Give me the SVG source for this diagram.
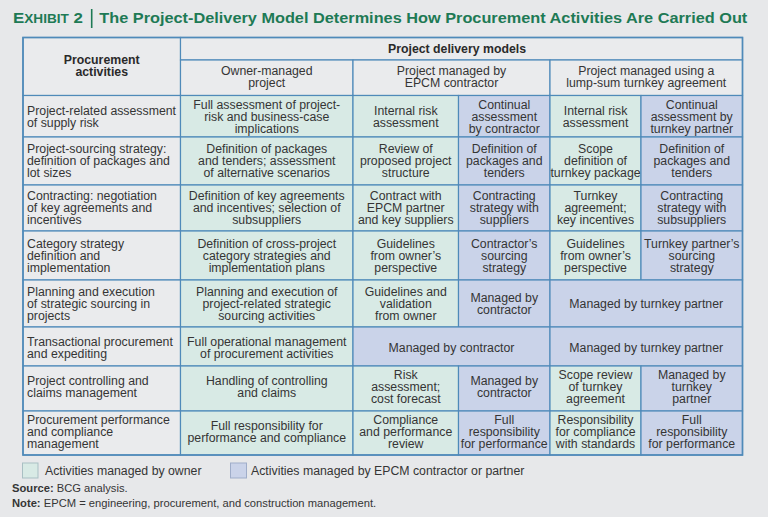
<svg xmlns="http://www.w3.org/2000/svg" width="768" height="517" viewBox="0 0 768 517">
<style>
.bg{fill:#e7e8ea}
.h{fill:#eaebed;stroke:#4f8ab9;stroke-width:1.2}
.g{fill:#d8eae5;stroke:#4f8ab9;stroke-width:1.2}
.b{fill:#cad3e9;stroke:#4f8ab9;stroke-width:1.2}
text{font-family:"Liberation Sans",Arial,sans-serif;fill:#353535}
.t{font-size:12.3px}
.c{text-anchor:middle}
.bd{font-weight:bold;fill:#2a2a2a}
.ttl{font-weight:bold;fill:#1e7a55}
.ft{font-size:11.2px}
</style>
<rect class="bg" x="0" y="0" width="768" height="517"/>

<g id="title">
<text class="ttl" x="13" y="23" textLength="70" lengthAdjust="spacingAndGlyphs"><tspan font-size="15.5">E</tspan><tspan font-size="12.5">XHIBIT</tspan><tspan font-size="15.5"> 2</tspan></text>
<line x1="91.7" y1="9" x2="91.7" y2="28" stroke="#1e7a55" stroke-width="1.6"/>
<text class="ttl" x="99.3" y="23" font-size="15.5" textLength="648" lengthAdjust="spacingAndGlyphs">The Project-Delivery Model Determines How Procurement Activities Are Carried Out</text>
</g>

<g id="header">
<rect class="h" x="23" y="37.5" width="157.5" height="58"/>
<text class="t c bd" x="101.7" y="63.5">Procurement</text>
<text class="t c bd" x="101.7" y="75.5">activities</text>
<rect class="h" x="180.5" y="37.5" width="562" height="22.5"/>
<text class="t c bd" x="457" y="53">Project delivery models</text>
<rect class="h" x="180.5" y="60" width="172.5" height="35.5"/>
<text class="t c" x="266.75" y="74.5">Owner-managed</text>
<text class="t c" x="266.75" y="86.5">project</text>
<rect class="h" x="353" y="60" width="197" height="35.5"/>
<text class="t c" x="451.5" y="74.5">Project managed by</text>
<text class="t c" x="451.5" y="86.5">EPCM contractor</text>
<rect class="h" x="550" y="60" width="192.5" height="35.5"/>
<text class="t c" x="646.25" y="74.5">Project managed using a</text>
<text class="t c" x="646.25" y="86.5">lump-sum turnkey agreement</text>
</g>

<g id="row1">
<rect class="h" x="23" y="95.5" width="157.5" height="41.5"/>
<text class="t" x="27" y="114.5">Project-related assessment</text>
<text class="t" x="27" y="126.5">of supply risk</text>
<rect class="g" x="180.5" y="95.5" width="172.5" height="41.5"/>
<text class="t c" x="266.75" y="108.5">Full assessment of project-</text>
<text class="t c" x="266.75" y="120.5">risk and business-case</text>
<text class="t c" x="266.75" y="132.5">implications</text>
<rect class="g" x="353" y="95.5" width="105.5" height="41.5"/>
<text class="t c" x="405.75" y="114.5">Internal risk</text>
<text class="t c" x="405.75" y="126.5">assessment</text>
<rect class="b" x="458.5" y="95.5" width="91.5" height="41.5"/>
<text class="t c" x="504.25" y="108.5">Continual</text>
<text class="t c" x="504.25" y="120.5">assessment</text>
<text class="t c" x="504.25" y="132.5">by contractor</text>
<rect class="g" x="550" y="95.5" width="91" height="41.5"/>
<text class="t c" x="595.5" y="114.5">Internal risk</text>
<text class="t c" x="595.5" y="126.5">assessment</text>
<rect class="b" x="641" y="95.5" width="101.5" height="41.5"/>
<text class="t c" x="691.75" y="108.5">Continual</text>
<text class="t c" x="691.75" y="120.5">assessment by</text>
<text class="t c" x="691.75" y="132.5">turnkey partner</text>
</g>

<g id="row2">
<rect class="h" x="23" y="137" width="157.5" height="48"/>
<text class="t" x="27" y="153.3">Project-sourcing strategy:</text>
<text class="t" x="27" y="165.3">definition of packages and</text>
<text class="t" x="27" y="177.3">lot sizes</text>
<rect class="g" x="180.5" y="137" width="172.5" height="48"/>
<text class="t c" x="266.75" y="153.3">Definition of packages</text>
<text class="t c" x="266.75" y="165.3">and tenders; assessment</text>
<text class="t c" x="266.75" y="177.3">of alternative scenarios</text>
<rect class="g" x="353" y="137" width="105.5" height="48"/>
<text class="t c" x="405.75" y="153.3">Review of</text>
<text class="t c" x="405.75" y="165.3">proposed project</text>
<text class="t c" x="405.75" y="177.3">structure</text>
<rect class="b" x="458.5" y="137" width="91.5" height="48"/>
<text class="t c" x="504.25" y="153.3">Definition of</text>
<text class="t c" x="504.25" y="165.3">packages and</text>
<text class="t c" x="504.25" y="177.3">tenders</text>
<rect class="g" x="550" y="137" width="91" height="48"/>
<text class="t c" x="595.5" y="153.3">Scope</text>
<text class="t c" x="595.5" y="165.3">definition of</text>
<text class="t c" x="595.5" y="177.3">turnkey package</text>
<rect class="b" x="641" y="137" width="101.5" height="48"/>
<text class="t c" x="691.75" y="153.3">Definition of</text>
<text class="t c" x="691.75" y="165.3">packages and</text>
<text class="t c" x="691.75" y="177.3">tenders</text>
</g>

<g id="row3">
<rect class="h" x="23" y="185" width="157.5" height="46"/>
<text class="t" x="27" y="200.3">Contracting: negotiation</text>
<text class="t" x="27" y="212.3">of key agreements and</text>
<text class="t" x="27" y="224.3">incentives</text>
<rect class="g" x="180.5" y="185" width="172.5" height="46"/>
<text class="t c" x="266.75" y="200.3">Definition of key agreements</text>
<text class="t c" x="266.75" y="212.3">and incentives; selection of</text>
<text class="t c" x="266.75" y="224.3">subsuppliers</text>
<rect class="g" x="353" y="185" width="105.5" height="46"/>
<text class="t c" x="405.75" y="200.3">Contract with</text>
<text class="t c" x="405.75" y="212.3">EPCM partner</text>
<text class="t c" x="405.75" y="224.3">and key suppliers</text>
<rect class="b" x="458.5" y="185" width="91.5" height="46"/>
<text class="t c" x="504.25" y="200.3">Contracting</text>
<text class="t c" x="504.25" y="212.3">strategy with</text>
<text class="t c" x="504.25" y="224.3">suppliers</text>
<rect class="g" x="550" y="185" width="91" height="46"/>
<text class="t c" x="595.5" y="200.3">Turnkey</text>
<text class="t c" x="595.5" y="212.3">agreement;</text>
<text class="t c" x="595.5" y="224.3">key incentives</text>
<rect class="b" x="641" y="185" width="101.5" height="46"/>
<text class="t c" x="691.75" y="200.3">Contracting</text>
<text class="t c" x="691.75" y="212.3">strategy with</text>
<text class="t c" x="691.75" y="224.3">subsuppliers</text>
</g>

<g id="row4">
<rect class="h" x="23" y="231" width="157.5" height="49"/>
<text class="t" x="27" y="247.8">Category strategy</text>
<text class="t" x="27" y="259.8">definition and</text>
<text class="t" x="27" y="271.8">implementation</text>
<rect class="g" x="180.5" y="231" width="172.5" height="49"/>
<text class="t c" x="266.75" y="247.8">Definition of cross-project</text>
<text class="t c" x="266.75" y="259.8">category strategies and</text>
<text class="t c" x="266.75" y="271.8">implementation plans</text>
<rect class="g" x="353" y="231" width="105.5" height="49"/>
<text class="t c" x="405.75" y="247.8">Guidelines</text>
<text class="t c" x="405.75" y="259.8">from owner’s</text>
<text class="t c" x="405.75" y="271.8">perspective</text>
<rect class="b" x="458.5" y="231" width="91.5" height="49"/>
<text class="t c" x="504.25" y="247.8">Contractor’s</text>
<text class="t c" x="504.25" y="259.8">sourcing</text>
<text class="t c" x="504.25" y="271.8">strategy</text>
<rect class="g" x="550" y="231" width="91" height="49"/>
<text class="t c" x="595.5" y="247.8">Guidelines</text>
<text class="t c" x="595.5" y="259.8">from owner’s</text>
<text class="t c" x="595.5" y="271.8">perspective</text>
<rect class="b" x="641" y="231" width="101.5" height="49"/>
<text class="t c" x="691.75" y="247.8">Turnkey partner’s</text>
<text class="t c" x="691.75" y="259.8">sourcing</text>
<text class="t c" x="691.75" y="271.8">strategy</text>
</g>

<g id="row5">
<rect class="h" x="23" y="280" width="157.5" height="47"/>
<text class="t" x="27" y="295.8">Planning and execution</text>
<text class="t" x="27" y="307.8">of strategic sourcing in</text>
<text class="t" x="27" y="319.8">projects</text>
<rect class="g" x="180.5" y="280" width="172.5" height="47"/>
<text class="t c" x="266.75" y="295.8">Planning and execution of</text>
<text class="t c" x="266.75" y="307.8">project-related strategic</text>
<text class="t c" x="266.75" y="319.8">sourcing activities</text>
<rect class="g" x="353" y="280" width="105.5" height="47"/>
<text class="t c" x="405.75" y="295.8">Guidelines and</text>
<text class="t c" x="405.75" y="307.8">validation</text>
<text class="t c" x="405.75" y="319.8">from owner</text>
<rect class="b" x="458.5" y="280" width="91.5" height="47"/>
<text class="t c" x="504.25" y="301.8">Managed by</text>
<text class="t c" x="504.25" y="313.8">contractor</text>
<rect class="b" x="550" y="280" width="192.5" height="47"/>
<text class="t c" x="646.25" y="308">Managed by turnkey partner</text>
</g>

<g id="row6">
<rect class="h" x="23" y="327" width="157.5" height="39"/>
<text class="t" x="27" y="345.5">Transactional procurement</text>
<text class="t" x="27" y="357.5">and expediting</text>
<rect class="g" x="180.5" y="327" width="172.5" height="39"/>
<text class="t c" x="266.75" y="345.5">Full operational management</text>
<text class="t c" x="266.75" y="357.5">of procurement activities</text>
<rect class="b" x="353" y="327" width="197" height="39"/>
<text class="t c" x="451.5" y="352">Managed by contractor</text>
<rect class="b" x="550" y="327" width="192.5" height="39"/>
<text class="t c" x="646.25" y="352">Managed by turnkey partner</text>
</g>

<g id="row7">
<rect class="h" x="23" y="366" width="157.5" height="45"/>
<text class="t" x="27" y="385">Project controlling and</text>
<text class="t" x="27" y="397">claims management</text>
<rect class="g" x="180.5" y="366" width="172.5" height="45"/>
<text class="t c" x="266.75" y="385">Handling of controlling</text>
<text class="t c" x="266.75" y="397">and claims</text>
<rect class="g" x="353" y="366" width="105.5" height="45"/>
<text class="t c" x="405.75" y="378.7">Risk</text>
<text class="t c" x="405.75" y="390.7">assessment;</text>
<text class="t c" x="405.75" y="402.7">cost forecast</text>
<rect class="b" x="458.5" y="366" width="91.5" height="45"/>
<text class="t c" x="504.25" y="385">Managed by</text>
<text class="t c" x="504.25" y="397">contractor</text>
<rect class="g" x="550" y="366" width="91" height="45"/>
<text class="t c" x="595.5" y="378.7">Scope review</text>
<text class="t c" x="595.5" y="390.7">of turnkey</text>
<text class="t c" x="595.5" y="402.7">agreement</text>
<rect class="b" x="641" y="366" width="101.5" height="45"/>
<text class="t c" x="691.75" y="378.7">Managed by</text>
<text class="t c" x="691.75" y="390.7">turnkey</text>
<text class="t c" x="691.75" y="402.7">partner</text>
</g>

<g id="row8">
<rect class="h" x="23" y="411" width="157.5" height="44"/>
<text class="t" x="27" y="423.5">Procurement performance</text>
<text class="t" x="27" y="435.5">and compliance</text>
<text class="t" x="27" y="447.5">management</text>
<rect class="g" x="180.5" y="411" width="172.5" height="44"/>
<text class="t c" x="266.75" y="429.5">Full responsibility for</text>
<text class="t c" x="266.75" y="441.5">performance and compliance</text>
<rect class="g" x="353" y="411" width="105.5" height="44"/>
<text class="t c" x="405.75" y="423.5">Compliance</text>
<text class="t c" x="405.75" y="435.5">and performance</text>
<text class="t c" x="405.75" y="447.5">review</text>
<rect class="b" x="458.5" y="411" width="91.5" height="44"/>
<text class="t c" x="504.25" y="423.5">Full</text>
<text class="t c" x="504.25" y="435.5">responsibility</text>
<text class="t c" x="504.25" y="447.5">for performance</text>
<rect class="g" x="550" y="411" width="91" height="44"/>
<text class="t c" x="595.5" y="423.5">Responsibility</text>
<text class="t c" x="595.5" y="435.5">for compliance</text>
<text class="t c" x="595.5" y="447.5">with standards</text>
<rect class="b" x="641" y="411" width="101.5" height="44"/>
<text class="t c" x="691.75" y="423.5">Full</text>
<text class="t c" x="691.75" y="435.5">responsibility</text>
<text class="t c" x="691.75" y="447.5">for performance</text>
</g>

<g id="frame">
<rect x="23" y="37.5" width="719.5" height="417.5" fill="none" stroke="#4f8ab9" stroke-width="1.6"/>
</g>

<g id="connectors"></g>

<g id="legend">
<rect x="22.5" y="463" width="15.5" height="15" fill="#d8eae5" stroke="#a9bfc3" stroke-width="1"/>
<text class="t" x="45" y="474.5">Activities managed by owner</text>
<rect x="230.5" y="463" width="16" height="15" fill="#cad3e9" stroke="#9fadc9" stroke-width="1"/>
<text class="t" x="251" y="474.5">Activities managed by EPCM contractor or partner</text>
</g>

<g id="notes">
<text class="ft" x="12" y="491.5"><tspan font-weight="bold">Source:</tspan> BCG analysis.</text>
<text class="ft" x="12" y="507"><tspan font-weight="bold">Note:</tspan> EPCM = engineering, procurement, and construction management.</text>
</g>
</svg>
